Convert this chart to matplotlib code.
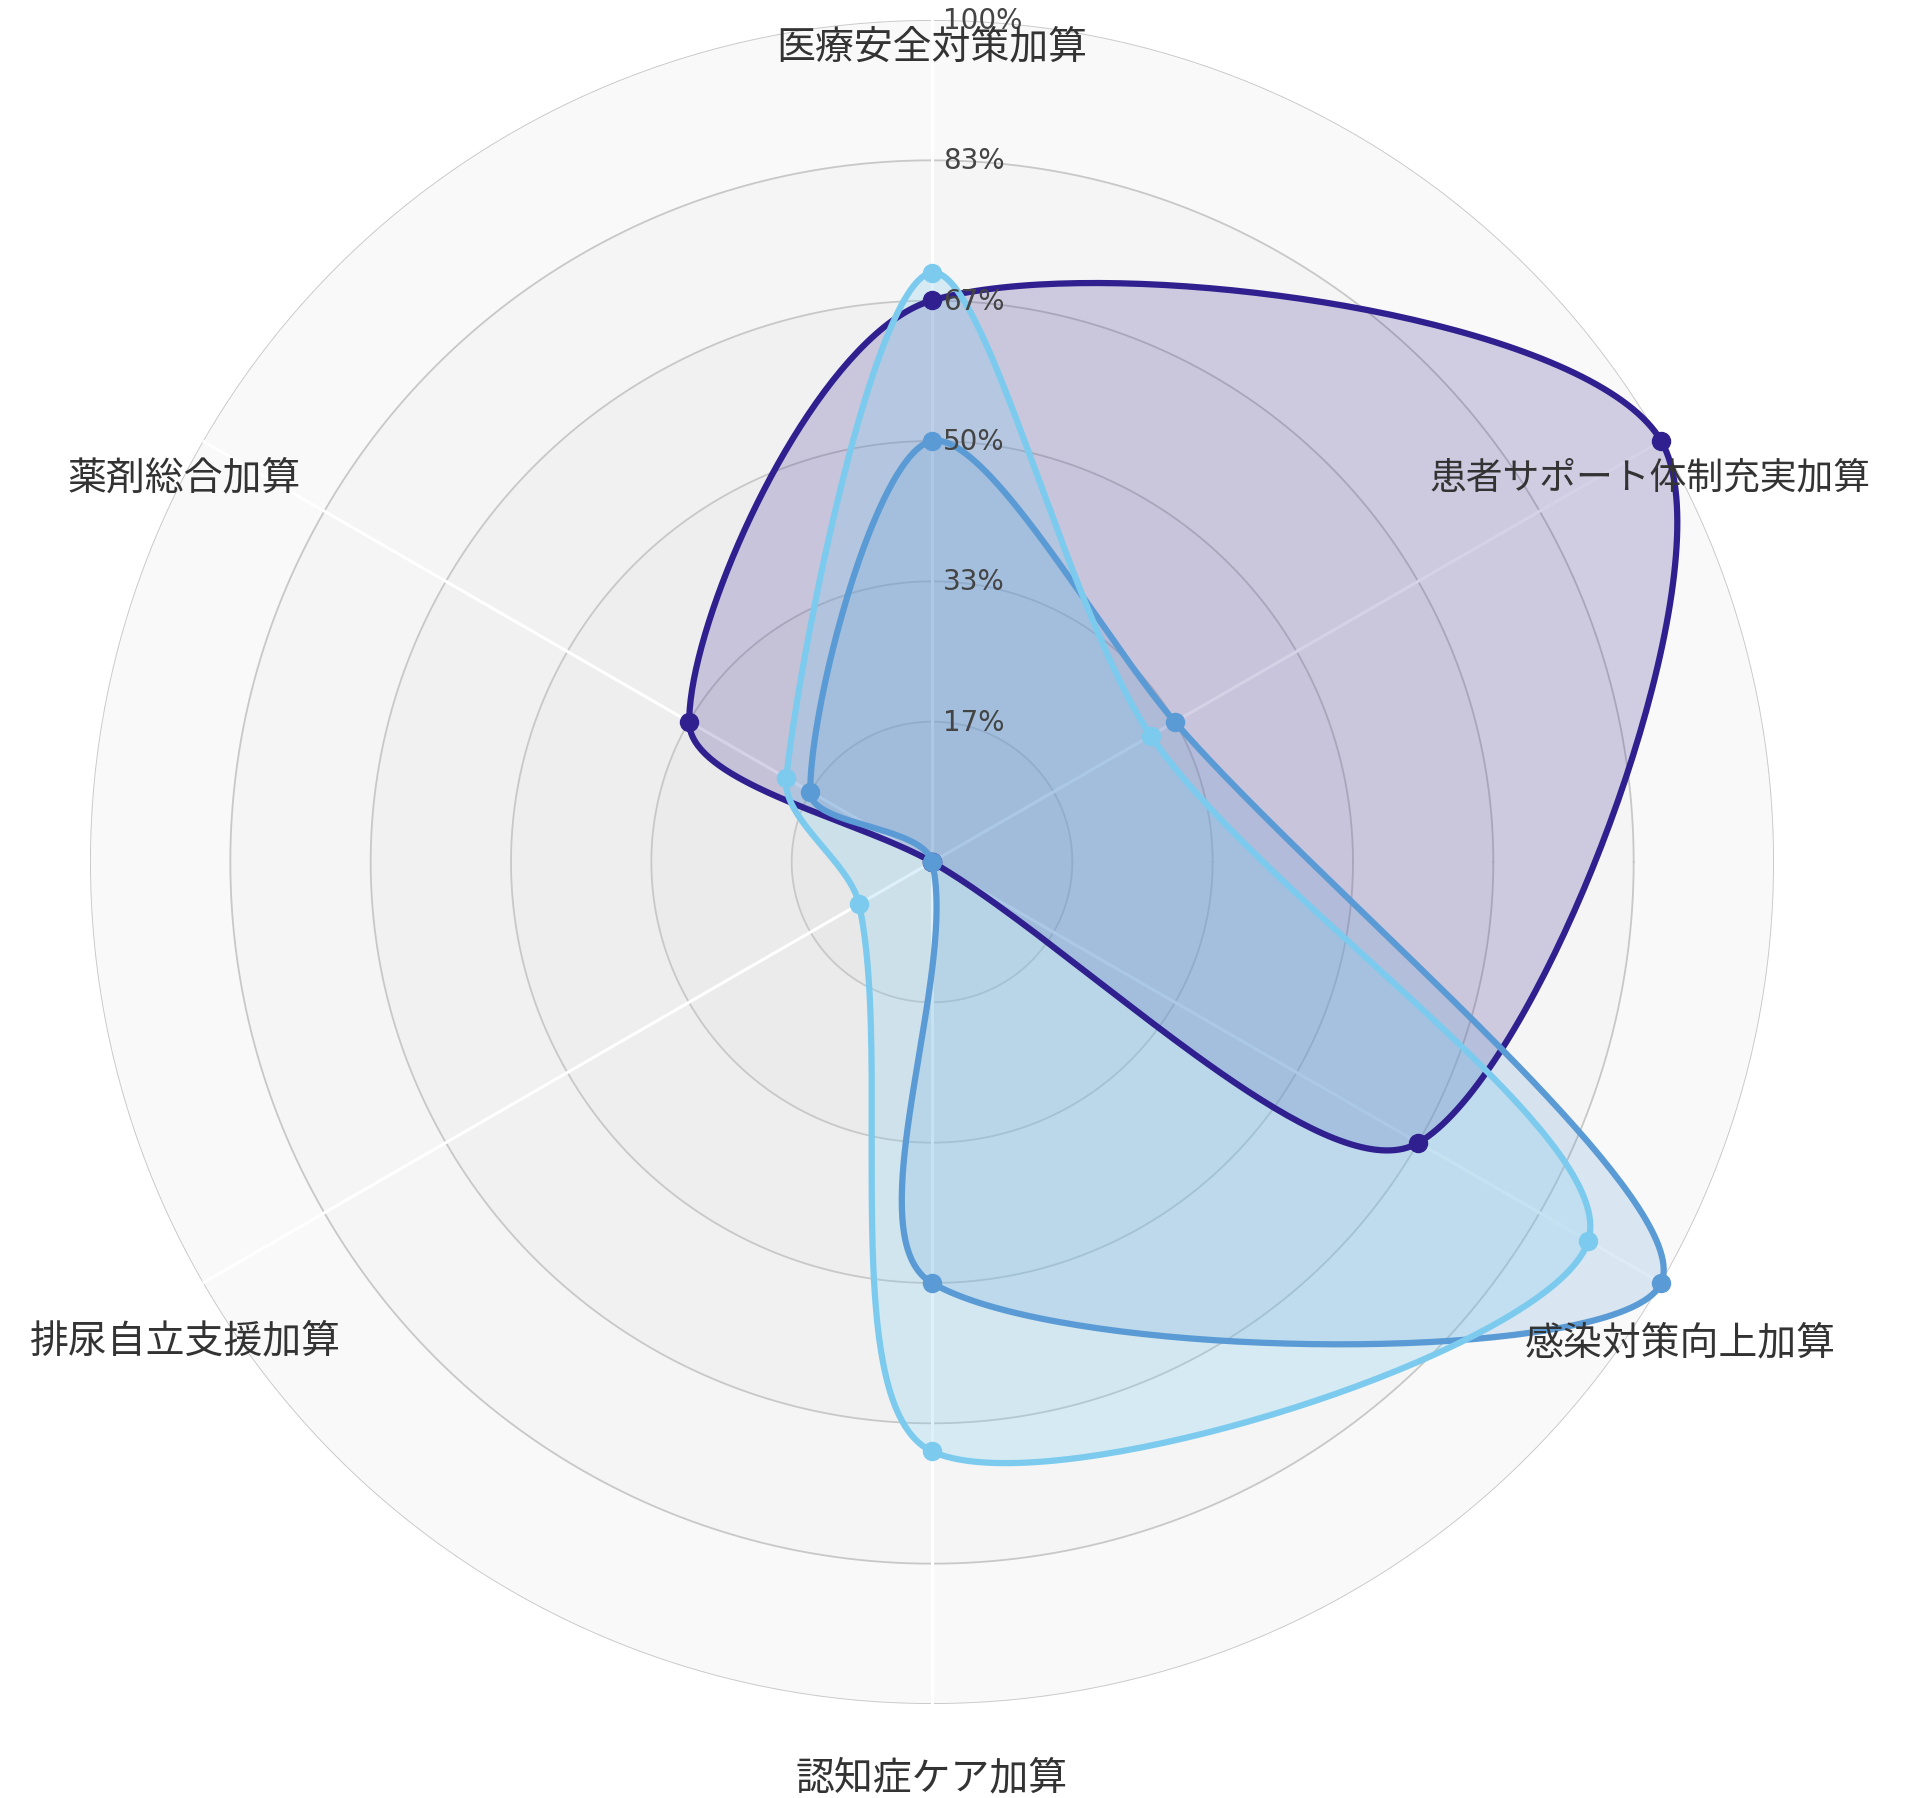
import numpy as np
import matplotlib
matplotlib.use('Agg')
import matplotlib.pyplot as plt
from matplotlib.transforms import offset_copy

plt.rcParams['font.family'] = ['Noto Sans CJK JP', 'DejaVu Sans']

# ---- data ----
categories = ['医療安全対策加算', '患者サポート体制充実加算', '感染対策向上加算',
              '認知症ケア加算', '排尿自立支援加算', '薬剤総合加算']
series_purple = [0.667, 1.0, 0.667, 0.0, 0.0, 0.333]
series_blue = [0.5, 0.333, 1.0, 0.5, 0.0, 0.167]
series_sky = [0.7, 0.3, 0.9, 0.7, 0.1, 0.2]
tick_values = [1/6, 2/6, 3/6, 4/6, 5/6, 1.0]
tick_labels = ['17%', '33%', '50%', '67%', '83%', '100%']

# ---- styles ----
colors = ['#30208f', '#5b9bd5', '#7ccbee']
fill_alpha = [0.20, 0.20, 0.25]
band_colors = ['#e8e8e8', '#ebebeb', '#eeeeee', '#f1f1f1', '#f5f5f5', '#f9f9f9']
TENSION = 0.3

W, H = 1922, 1799
fig = plt.figure(figsize=(W / 100, H / 100), dpi=100)
cx, cy, R = 932, 863, 842
ax = fig.add_axes([(cx - R) / W, (H - cy - R) / H, 2 * R / W, 2 * R / H], projection='polar')
ax.set_ylim(0, 1)
ax.set_xticks([])
ax.set_yticks([])
ax.grid(False)
ax.spines['polar'].set_visible(False)
ax.set_facecolor('none')

n = len(categories)
angles = np.deg2rad(90 - 60 * np.arange(n))

# background bands
edges = [0] + tick_values
for k in range(len(tick_values)):
    ax.bar(0, edges[k + 1] - edges[k], width=2 * np.pi, bottom=edges[k],
           color=band_colors[k], edgecolor='none', zorder=0)

# ring lines
th = np.linspace(0, 2 * np.pi, 721)
for v in tick_values:
    ax.plot(th, np.full_like(th, v), color='#c8c8c8', lw=1.3, zorder=1)

# spokes
for a in angles:
    ax.plot([a, a], [0, 1], color='white', lw=2.2, zorder=1)


def smooth_closed(theta, r, tension=0.3, steps=80):
    theta = np.asarray(theta)
    r = np.asarray(r, dtype=float)
    P = np.column_stack([r * np.cos(theta), r * np.sin(theta)])
    N = len(P)
    cps = []
    for i in range(N):
        prev, cur, nxt = P[i - 1], P[i], P[(i + 1) % N]
        d01 = np.hypot(*(cur - prev))
        d12 = np.hypot(*(nxt - cur))
        s = d01 + d12
        fa = tension * d01 / s if s > 0 else 0
        fb = tension * d12 / s if s > 0 else 0
        v = nxt - prev
        cps.append((cur - fa * v, cur + fb * v))
    t = np.linspace(0, 1, steps, endpoint=False)[:, None]
    pts = []
    for i in range(N):
        p0, p1 = P[i], cps[i][1]
        p2, p3 = cps[(i + 1) % N][0], P[(i + 1) % N]
        pts.append((1 - t) ** 3 * p0 + 3 * (1 - t) ** 2 * t * p1
                   + 3 * (1 - t) * t ** 2 * p2 + t ** 3 * p3)
    pts = np.vstack(pts + [P[:1]])
    return np.arctan2(pts[:, 1], pts[:, 0]), np.hypot(pts[:, 0], pts[:, 1])


for i, vals in enumerate([series_purple, series_blue, series_sky]):
    st, sr = smooth_closed(angles, vals, TENSION)
    ax.fill(st, sr, color=colors[i], alpha=fill_alpha[i], lw=0, zorder=2 + i, clip_on=False)
    ax.plot(st, sr, color=colors[i], lw=4.5, zorder=5 + i, clip_on=False, solid_capstyle='round')
    ax.plot(angles, vals, 'o', color=colors[i], ms=13, zorder=5 + i, clip_on=False)

# radial tick labels
trans = offset_copy(ax.transData, fig=fig, x=11, y=0, units='dots')
for v, lab in zip(tick_values, tick_labels):
    ax.text(np.pi / 2, v, lab, transform=trans, ha='left', va='center',
            fontsize=20, color='#444444', family=['DejaVu Sans'], zorder=9, clip_on=False)

# category labels (pixel centres)
label_pos = [(932, 47), (1650, 478), (1680, 1343), (932, 1778), (185, 1341), (184, 478)]
label_size = [28, 26.5, 28, 28, 28, 28]
for lab, (px, py), fs in zip(categories, label_pos, label_size):
    fig.text(px / W, 1 - py / H, lab, ha='center', va='center', fontsize=fs,
             color='#333333', zorder=10)

fig.savefig('out.png', dpi=100, facecolor='white')
